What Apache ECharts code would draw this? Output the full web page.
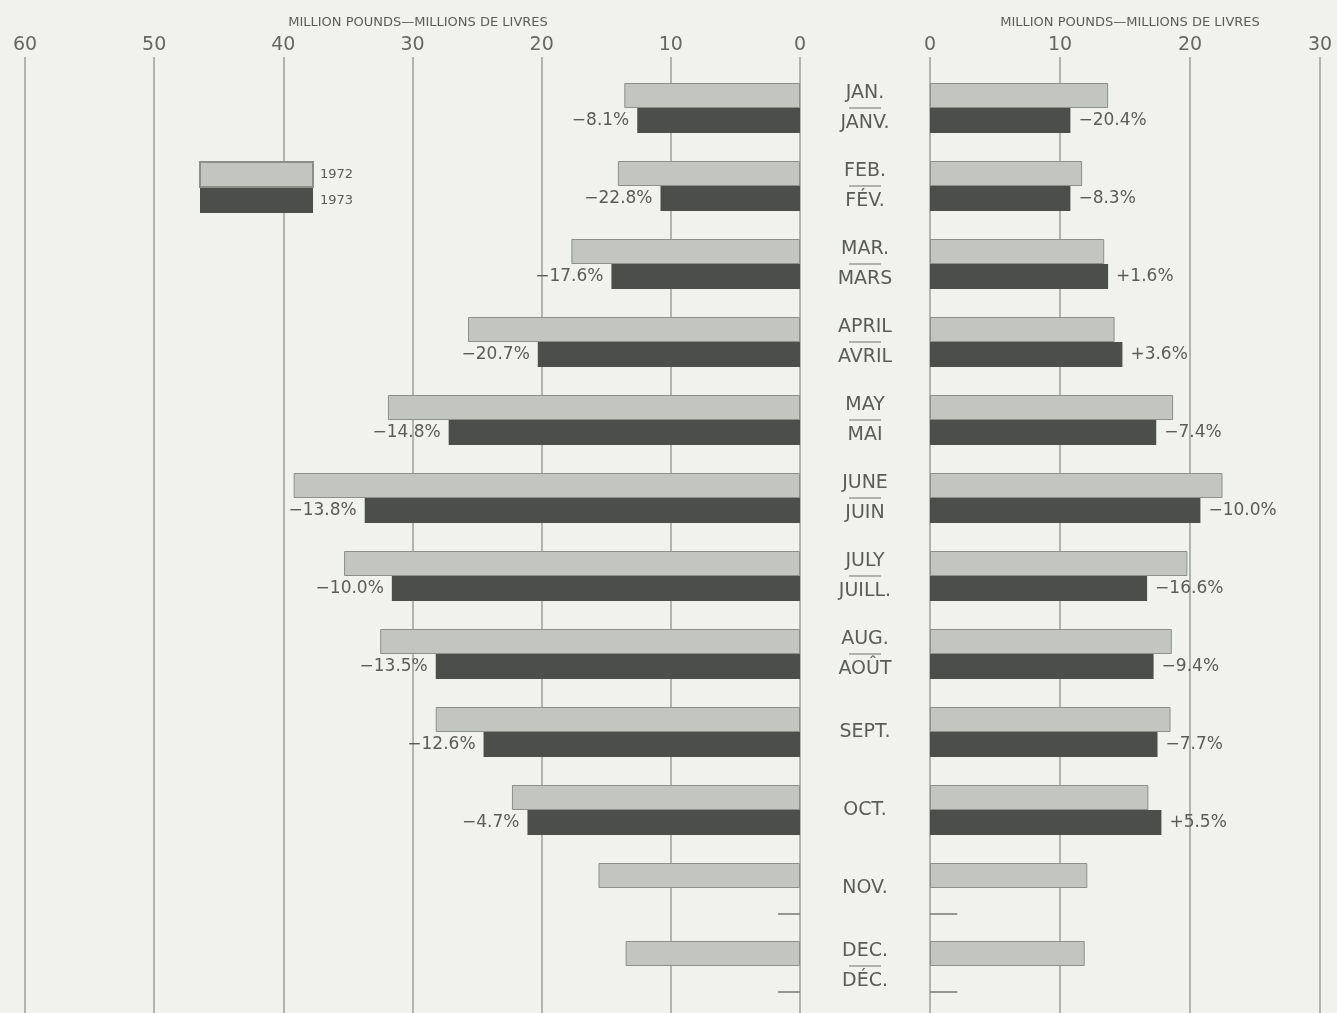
<!DOCTYPE html>
<html>
<head>
<meta charset="utf-8">
<script src="https://cdn.jsdelivr.net/npm/echarts@6/dist/echarts.min.js"></script>
<style>
html,body{margin:0;padding:0;background:#f1f2ed;}
#c{width:1337px;height:1013px;}
</style>
</head>
<body>
<div id="c"></div>
<script>
var monthsEn = ['JAN.','FEB.','MAR.','APRIL','MAY','JUNE','JULY','AUG.','SEPT.','OCT.','NOV.','DEC.'];
var monthsFr = ['JANV.','FÉV.','MARS','AVRIL','MAI','JUIN','JUILL.','AOÛT','SEPT.','OCT.','NOV.','DÉC.'];
var left1972 = [13.6, 14.1, 17.7, 25.7, 31.9, 39.2, 35.3, 32.5, 28.2, 22.3, 15.6, 13.5];
var left1973 = [12.6, 10.8, 14.6, 20.3, 27.2, 33.7, 31.6, 28.2, 24.5, 21.1, null, null];
var right1972 = [13.7, 11.7, 13.4, 14.2, 18.7, 22.5, 19.8, 18.6, 18.5, 16.8, 12.1, 11.9];
var right1973 = [10.8, 10.8, 13.7, 14.8, 17.4, 20.8, 16.7, 17.2, 17.5, 17.8, null, null];
var pctLeft = ['−8.1%','−22.8%','−17.6%','−20.7%','−14.8%','−13.8%','−10.0%','−13.5%','−12.6%','−4.7%','',''];
var pctRight = ['−20.4%','−8.3%','+1.6%','+3.6%','−7.4%','−10.0%','−16.6%','−9.4%','−7.7%','+5.5%','',''];
var leftTicks = [0, 10, 20, 30, 40, 50, 60];
var rightTicks = [0, 10, 20, 30];
var unitTitle = 'MILLION POUNDS—MILLIONS DE LIVRES';

var FONT = 'DejaVu Sans';
var TXT = '#5a5c59';
var LIGHT = '#c3c5c0';
var DARK = '#4b4e4b';
var GRIDC = '#9c9d98';

var chart = echarts.init(document.getElementById('c'));

function missingTicks(values, len, side) {
  return {
    type: 'custom',
    xAxisIndex: side, yAxisIndex: side,
    silent: true,
    data: values.map(function (v, i) { return v == null ? [i] : null; }).filter(function (d) { return d; }),
    renderItem: function (params, api) {
      var idx = api.value(0);
      var p0 = api.coord([0, idx]);
      var p1 = api.coord([len, idx]);
      var y = p0[1] + 26;
      return {
        type: 'line',
        shape: { x1: p0[0], y1: y, x2: p1[0], y2: y },
        style: { stroke: '#777', lineWidth: 1.5 }
      };
    }
  };
}

var option = {
  backgroundColor: '#f1f2ed',
  animation: false,
  textStyle: { fontFamily: FONT },
  title: [
    { text: unitTitle, left: 413, top: 11, textAlign: 'center',
      textStyle: { fontSize: 13, fontWeight: 'normal', color: TXT, fontFamily: FONT } },
    { text: unitTitle, left: 1125, top: 11, textAlign: 'center',
      textStyle: { fontSize: 13, fontWeight: 'normal', color: TXT, fontFamily: FONT } }
  ],
  legend: {
    orient: 'vertical', left: 199, top: 161, padding: 0,
    itemWidth: 113, itemHeight: 25, itemGap: 0,
    selectedMode: false,
    icon: 'rect',
    data: ['1972', '1973'],
    textStyle: { fontSize: 13, color: TXT, fontFamily: FONT, padding: [0, 0, 0, 2] }
  },
  grid: [
    { left: 25, width: 775, top: 69, height: 936 },
    { left: 930, width: 390, top: 69, height: 936 },
    { left: 25, width: 775, top: 57, height: 960 },
    { left: 930, width: 390, top: 57, height: 960 }
  ],
  xAxis: [
    { gridIndex: 0, type: 'value', min: 0, max: 60, interval: 10, inverse: true, show: false },
    { gridIndex: 1, type: 'value', min: 0, max: 30, interval: 10, show: false },
    { gridIndex: 2, type: 'value', min: 0, max: 60, interval: 10, inverse: true, position: 'top',
      axisLine: { show: false }, axisTick: { show: false },
      axisLabel: { fontSize: 19, color: '#666', margin: 2, fontFamily: FONT,
        customValues: leftTicks },
      splitLine: { show: true, lineStyle: { color: GRIDC, width: 1.5 } } },
    { gridIndex: 3, type: 'value', min: 0, max: 30, interval: 10, position: 'top',
      axisLine: { show: false }, axisTick: { show: false },
      axisLabel: { fontSize: 19, color: '#666', margin: 2, fontFamily: FONT,
        customValues: rightTicks },
      splitLine: { show: true, lineStyle: { color: GRIDC, width: 1.5 } } }
  ],
  yAxis: [
    { gridIndex: 0, type: 'category', inverse: true, position: 'right',
      data: monthsEn,
      axisLine: { show: false }, axisTick: { show: false },
      axisLabel: {
        margin: 65, align: 'center', interval: 0,
        formatter: function (v, i) {
          var fr = monthsFr[i];
          if (fr === v) return '{en|' + v + '}';
          return '{en|' + v + '}\n{sep| }\n{en|' + fr + '}';
        },
        rich: {
          en: { fontSize: 19, color: TXT, lineHeight: 24, fontFamily: FONT, align: 'center' },
          sep: { width: 32, height: 1, lineHeight: 6, fontSize: 1, backgroundColor: '#6f716d', align: 'center' }
        }
      },
      splitLine: { show: false } },
    { gridIndex: 1, type: 'category', inverse: true, data: monthsEn, show: false },
    { gridIndex: 2, type: 'value', min: 0, max: 1, show: false },
    { gridIndex: 3, type: 'value', min: 0, max: 1, show: false }
  ],
  series: [
    { name: '1972', type: 'bar', xAxisIndex: 0, yAxisIndex: 0, data: left1972,
      barWidth: 25, barGap: '0%',
      itemStyle: { color: LIGHT, borderColor: '#8d8f8a', borderWidth: 1 } },
    { name: '1973', type: 'bar', xAxisIndex: 0, yAxisIndex: 0, data: left1973,
      barWidth: 25, barGap: '0%',
      itemStyle: { color: DARK },
      label: { show: true, position: 'left', distance: 8, fontSize: 17, color: TXT, fontFamily: FONT,
        formatter: function (p) { return pctLeft[p.dataIndex]; } } },
    { name: '1972', type: 'bar', xAxisIndex: 1, yAxisIndex: 1, data: right1972,
      barWidth: 25, barGap: '0%',
      itemStyle: { color: LIGHT, borderColor: '#8d8f8a', borderWidth: 1 } },
    { name: '1973', type: 'bar', xAxisIndex: 1, yAxisIndex: 1, data: right1973,
      barWidth: 25, barGap: '0%',
      itemStyle: { color: DARK },
      label: { show: true, position: 'right', distance: 8, fontSize: 17, color: TXT, fontFamily: FONT,
        formatter: function (p) { return pctRight[p.dataIndex]; } } },
    missingTicks(left1973, 1.7, 0),
    missingTicks(right1973, 2.1, 1)
  ]
};
chart.setOption(option);
</script>
</body>
</html>
